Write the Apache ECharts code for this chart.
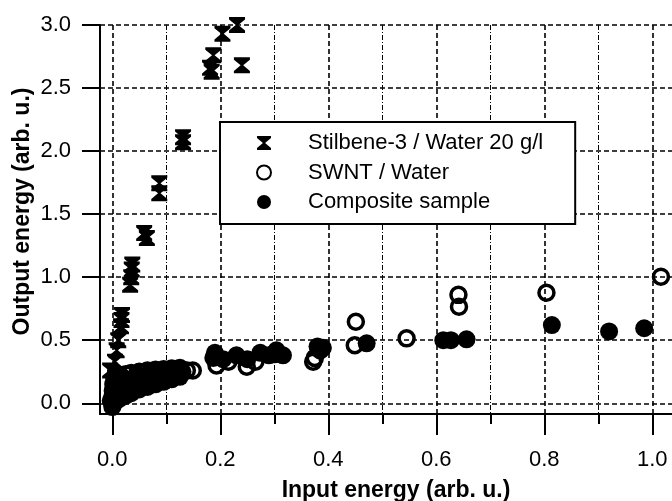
<!DOCTYPE html>
<html>
<head>
<meta charset="utf-8">
<script src="https://cdn.jsdelivr.net/npm/echarts@6/dist/echarts.min.js"></script>
<style>html,body{margin:0;padding:0;background:#fff}#c{width:672px;height:501px}</style>
</head>
<body>
<div id="c"></div>
<script>
const seriesNames = ['Stilbene-3 / Water 20 g/l', 'SWNT / Water', 'Composite sample'];
const xTicks = [0, 0.2, 0.4, 0.6, 0.8, 1.0];
const yTicks = [0, 0.5, 1.0, 1.5, 2.0, 2.5, 3.0];
const stilbene = [
  [0.000,0.00],[0.001,0.03],[0.002,0.06],[0.003,0.10],[0.004,0.15],[0.005,0.20],[-0.004,0.26],
  [0.005,0.33],[0.008,0.42],[0.011,0.50],[0.016,0.61],[0.017,0.66],[0.018,0.70],
  [0.033,0.94],[0.035,1.00],[0.036,1.06],[0.037,1.10],
  [0.059,1.35],[0.064,1.31],[0.087,1.745],[0.087,1.665],
  [0.131,2.11],[0.131,2.07],[0.181,2.66],[0.184,2.63],[0.187,2.76],
  [0.204,2.93],[0.231,3.00],[0.240,2.68]
];
const swnt = [
  [0.000,0.00],[0.000,0.05],[0.001,0.10],[0.002,0.15],[0.004,0.19],[0.008,0.21],[0.015,0.22],
  [0.025,0.23],[0.035,0.24],[0.050,0.25],[0.065,0.26],[0.080,0.265],[0.095,0.27],[0.110,0.275],
  [0.125,0.28],[0.138,0.26],[0.149,0.26],
  [0.193,0.30],[0.215,0.33],[0.249,0.29],[0.265,0.33],[0.300,0.39],
  [0.372,0.33],[0.375,0.36],[0.385,0.42],[0.449,0.46],[0.451,0.647],[0.545,0.515],
  [0.641,0.86],[0.642,0.766],[0.804,0.877],[1.016,1.004]
];
const composite = [
  [0.000,-0.03],[-0.003,0.02],[0.003,0.00],[0.002,0.08],[0.004,0.14],[0.008,0.02],[0.015,0.04],
  [0.012,0.10],[0.008,0.19],[0.020,0.12],[0.020,0.20],[0.025,0.06],[0.035,0.08],[0.040,0.15],
  [0.045,0.23],[0.050,0.11],[0.060,0.18],[0.065,0.13],[0.070,0.25],[0.080,0.15],[0.080,0.20],
  [0.090,0.26],[0.095,0.17],[0.100,0.22],[0.105,0.265],[0.110,0.19],[0.120,0.24],[0.122,0.27],
  [0.125,0.21],[0.130,0.25],
  [0.187,0.36],[0.190,0.40],[0.205,0.35],[0.230,0.38],[0.250,0.35],[0.274,0.40],[0.290,0.38],
  [0.304,0.42],[0.316,0.38],[0.380,0.45],[0.390,0.44],[0.471,0.476],[0.613,0.50],[0.627,0.50],
  [0.656,0.507],[0.814,0.62],[0.920,0.57],[0.985,0.595]
];

const hourglass = 'path://M0,0 L10,0 L10,1.5 L5.8,5 L10,8.5 L10,10 L0,10 L0,8.5 L4.2,5 L0,1.5 Z';
const font = '"Liberation Sans", Arial, sans-serif';
const majorDash = { color: '#000', width: 1.6, type: [5, 3] };

const chart = echarts.init(document.getElementById('c'), null, { renderer: 'canvas' });
chart.setOption({
  animation: false,
  backgroundColor: '#fff',
  grid: { left: 100, top: 25, right: 0, bottom: 87, containLabel: false, outerBoundsMode: 'none' },
  xAxis: {
    type: 'value', min: -0.0228, max: 1.0365, splitNumber: 5,
    axisLine: { show: true, onZero: false, lineStyle: { color: '#000', width: 2 } },
    axisTick: { show: true, length: 21, lineStyle: { color: '#000', width: 2 }, customValues: xTicks },
    minorTick: { show: true, splitNumber: 2, length: 10, lineStyle: { color: '#000', width: 2 } },
    axisLabel: { customValues: xTicks, margin: 35, color: '#000', fontFamily: font, fontSize: 22,
      formatter: v => v.toFixed(1) },
    splitLine: { show: true, lineStyle: majorDash },
    minorSplitLine: { show: true, lineStyle: { color: '#000', width: 1, type: [5, 2, 1, 2] } },
    name: 'Input energy (arb. u.)', nameLocation: 'middle', nameGap: 65, nameMoveOverlap: false,
    nameTextStyle: { color: '#000', fontFamily: font, fontSize: 23, fontWeight: 'bold', padding: [0, 0, 0, 20] }
  },
  yAxis: {
    type: 'value', min: -0.085, max: 3.0, splitNumber: 6,
    axisLine: { show: true, onZero: false, lineStyle: { color: '#000', width: 2 } },
    axisTick: { show: true, length: 18, lineStyle: { color: '#000', width: 2 }, customValues: yTicks },
    axisLabel: { customValues: yTicks, margin: 29, color: '#000', fontFamily: font, fontSize: 22,
      formatter: v => v.toFixed(1) },
    splitLine: { show: true, lineStyle: majorDash },
    name: 'Output energy (arb. u.)', nameLocation: 'middle', nameGap: 66, nameMoveOverlap: false,
    nameTextStyle: { color: '#000', fontFamily: font, fontSize: 23, fontWeight: 'bold', padding: [0, 0, 0, 16] }
  },
  legend: {
    orient: 'vertical', left: 220, top: 122, width: 'auto',
    data: seriesNames,
    backgroundColor: '#fff', borderColor: '#000', borderWidth: 2,
    padding: [10, 32, 11, 36], itemGap: 7.5, itemWidth: 14, itemHeight: 14,
    textStyle: { color: '#000', fontFamily: font, fontSize: 22, padding: [0, 0, 0, 32] }
  },
  series: [
    { name: seriesNames[0], type: 'scatter', data: stilbene, symbol: hourglass, symbolSize: [16, 16],
      symbolKeepAspect: true, clip: false, itemStyle: { color: '#000', opacity: 1 } },
    { name: seriesNames[1], type: 'scatter', data: swnt, symbol: 'circle', symbolSize: 15, clip: false,
      itemStyle: { color: 'rgba(0,0,0,0)', borderColor: '#000', borderWidth: 3.5, opacity: 1 } },
    { name: seriesNames[2], type: 'scatter', data: composite, symbol: 'circle', symbolSize: 18, clip: false,
      itemStyle: { color: '#000', opacity: 1 } }
  ]
});
</script>
</body>
</html>
